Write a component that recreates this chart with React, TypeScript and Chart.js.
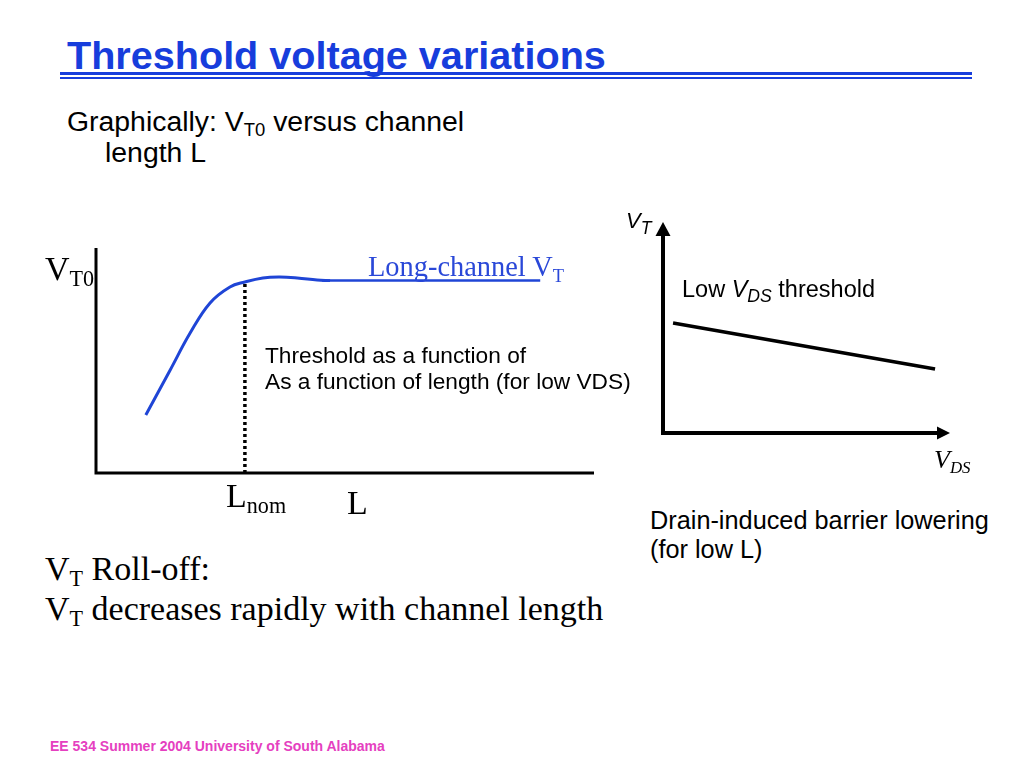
import React, { useEffect, useRef } from "react";
import { Chart, registerables } from "chart.js";

Chart.register(...registerables);

// ---- Data (abstract units 0..100 on each axis) ----
const curveL = [10.0, 14.9, 18.9, 22.9, 26.9, 29.9, 33.5, 36.9, 40.4, 44.4, 47.0];
const curveVT0 = [25.8, 45.8, 62.2, 75.6, 82.7, 84.9, 86.7, 87.1, 86.7, 85.8, 85.5];
const longChannelL = [45.4, 89.2];
const longChannelVT = [85.6, 85.6];
const lNom = 29.9;
const lNomVT = [0, 84.9];
const vdsValues = [3.5, 94.8];
const vtValues = [52.1, 30.3];

const BLUE = "#1f45d6";
const SANS = "'Liberation Sans', Arial, Helvetica, sans-serif";
const SERIF = "'Liberation Serif', 'Times New Roman', Times, serif";

const pts = (xs: number[], ys: number[]) => xs.map((x, i) => ({ x, y: ys[i] }));

function axesPlugin(width: number, arrows: boolean) {
  return {
    id: "axesLines",
    afterDatasetsDraw(chart: any) {
      const { ctx, chartArea } = chart;
      const { left, right, top, bottom } = chartArea;
      ctx.save();
      ctx.strokeStyle = "#000";
      ctx.fillStyle = "#000";
      ctx.lineWidth = width;
      ctx.lineJoin = "miter";
      ctx.lineCap = "butt";
      ctx.beginPath();
      ctx.moveTo(left, arrows ? top + 10 : top);
      ctx.lineTo(left, bottom);
      ctx.lineTo(arrows ? right - 10 : right, bottom);
      ctx.stroke();
      if (arrows) {
        ctx.beginPath();
        ctx.moveTo(left, top);
        ctx.lineTo(left - 7.5, top + 14);
        ctx.lineTo(left + 7.5, top + 14);
        ctx.closePath();
        ctx.fill();
        ctx.beginPath();
        ctx.moveTo(right, bottom);
        ctx.lineTo(right - 13, bottom - 6.5);
        ctx.lineTo(right - 13, bottom + 6.5);
        ctx.closePath();
        ctx.fill();
      }
      ctx.restore();
    },
  };
}

const hiddenScales = {
  x: { type: "linear" as const, min: 0, max: 100, display: false },
  y: { type: "linear" as const, min: 0, max: 100, display: false },
};

function RollOffChart() {
  const ref = useRef<HTMLCanvasElement>(null);
  useEffect(() => {
    const chart = new Chart(ref.current!, {
      type: "line",
      data: {
        datasets: [
          {
            data: pts(curveL, curveVT0),
            borderColor: BLUE,
            borderWidth: 3,
            pointRadius: 0,
            tension: 0.4,
            clip: false as any,
          },
          {
            data: pts(longChannelL, longChannelVT),
            borderColor: BLUE,
            borderWidth: 2.5,
            pointRadius: 0,
            clip: false as any,
          },
          {
            data: pts([lNom, lNom], lNomVT),
            borderColor: "#000",
            borderWidth: 3.5,
            borderDash: [3, 3],
            pointRadius: 0,
            clip: false as any,
          },
        ],
      },
      options: {
        animation: false,
        responsive: true,
        maintainAspectRatio: false,
        layout: { padding: { left: 56, top: 28, right: 46, bottom: 27 } },
        scales: hiddenScales,
        plugins: { legend: { display: false }, tooltip: { enabled: false } },
      },
      plugins: [axesPlugin(3, false)],
    });
    return () => chart.destroy();
  }, []);
  return (
    <div style={{ position: "absolute", left: 40, top: 220, width: 600, height: 280 }}>
      <canvas ref={ref} />
    </div>
  );
}

function DiblChart() {
  const ref = useRef<HTMLCanvasElement>(null);
  useEffect(() => {
    const chart = new Chart(ref.current!, {
      type: "line",
      data: {
        datasets: [
          {
            data: pts(vdsValues, vtValues),
            borderColor: "#000",
            borderWidth: 3.5,
            pointRadius: 0,
            clip: false as any,
          },
        ],
      },
      options: {
        animation: false,
        responsive: true,
        maintainAspectRatio: false,
        layout: { padding: { left: 23, top: 22, right: 30, bottom: 27 } },
        scales: hiddenScales,
        plugins: { legend: { display: false }, tooltip: { enabled: false } },
      },
      plugins: [axesPlugin(4, true)],
    });
    return () => chart.destroy();
  }, []);
  return (
    <div style={{ position: "absolute", left: 640, top: 200, width: 340, height: 260 }}>
      <canvas ref={ref} />
    </div>
  );
}

function T(props: {
  x: number;
  y: number;
  size: number;
  serif?: boolean;
  color?: string;
  bold?: boolean;
  italic?: boolean;
  children: React.ReactNode;
}) {
  const k = props.serif ? 0.8375 : 0.8465;
  return (
    <div
      style={{
        position: "absolute",
        left: props.x,
        top: props.y - k * props.size,
        fontSize: props.size,
        lineHeight: 1,
        fontFamily: props.serif ? SERIF : SANS,
        color: props.color || "#000",
        fontWeight: props.bold ? "bold" : "normal",
        fontStyle: props.italic ? "italic" : "normal",
        whiteSpace: "nowrap",
      }}
    >
      {props.children}
    </div>
  );
}

const Sub = ({ children, italic, scale }: { children: React.ReactNode; italic?: boolean; scale?: number }) => (
  <span
    style={{
      fontSize: `${scale || 0.65}em`,
      position: "relative",
      top: "0.3em",
      fontStyle: italic ? "italic" : undefined,
    }}
  >
    {children}
  </span>
);

export default function App() {
  return (
    <div
      style={{
        position: "fixed",
        left: 0,
        top: 0,
        width: 1024,
        height: 768,
        background: "#fff",
        overflow: "hidden",
      }}
    >
      <T x={67} y={70} size={39.6} bold color="#173ddc">
        Threshold voltage variations
      </T>
      <div style={{ position: "absolute", left: 60, top: 72, width: 912, height: 3, background: "#173ddc" }} />
      <div style={{ position: "absolute", left: 60, top: 77, width: 912, height: 2, background: "#173ddc" }} />

      <T x={67} y={131} size={28.4}>
        Graphically: V<Sub>T0</Sub> versus channel
      </T>
      <T x={105} y={162} size={28.4}>
        length L
      </T>

      <RollOffChart />
      <DiblChart />

      <T x={45} y={280} size={34} serif>
        V<Sub>T0</Sub>
      </T>
      <T x={368} y={277} size={28.4} serif color="#2a48d8">
        Long-channel V<Sub>T</Sub>
      </T>
      <T x={265} y={363} size={22.7}>
        Threshold as a function of
      </T>
      <T x={265} y={389} size={22.7}>
        As a function of length (for low VDS)
      </T>
      <T x={226} y={507} size={34} serif>
        L<Sub>nom</Sub>
      </T>
      <T x={347} y={514} size={34} serif>
        L
      </T>
      <T x={45} y={580} size={34} serif>
        V<Sub>T</Sub> Roll-off:
      </T>
      <T x={45} y={620} size={34} serif>
        V<Sub>T</Sub> decreases rapidly with channel length
      </T>

      <T x={626} y={229} size={22} italic>
        V<Sub scale={0.8}>T</Sub>
      </T>
      <T x={682} y={298} size={23.5}>
        Low <i>V</i>
        <Sub italic scale={0.75}>DS</Sub> threshold
      </T>
      <T x={934} y={469} size={26} serif italic>
        V<Sub>DS</Sub>
      </T>
      <T x={650} y={529} size={25.3}>
        Drain-induced barrier lowering
      </T>
      <T x={650} y={558} size={25.3}>
        (for low L)
      </T>

      <T x={50} y={751} size={14} bold color="#e540c0">
        EE 534 Summer 2004 University of South Alabama
      </T>
    </div>
  );
}
